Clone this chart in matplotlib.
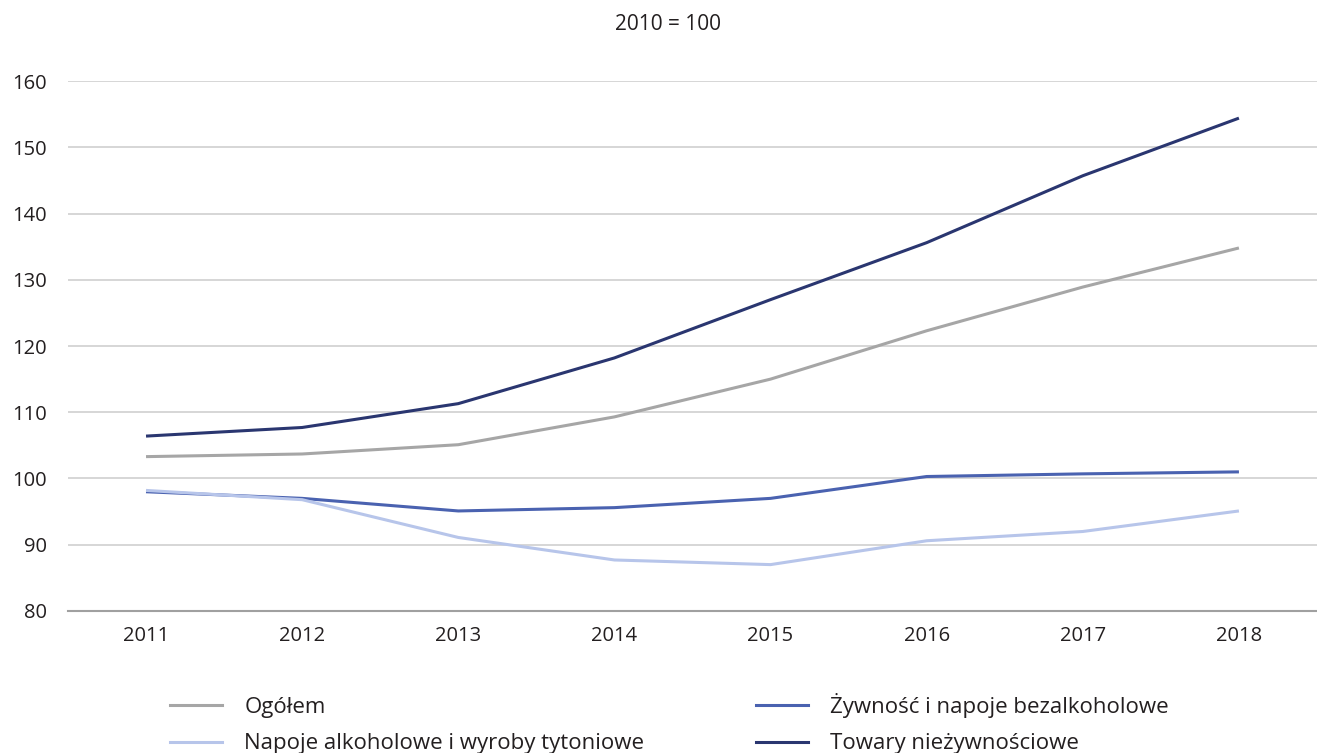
import matplotlib.pyplot as plt
from matplotlib.lines import Line2D

plt.rcParams['font.family'] = ['Open Sans', 'DejaVu Sans']

years = ["2011", "2012", "2013", "2014", "2015", "2016", "2017", "2018"]
ogolem = [103.3, 103.7, 105.1, 109.3, 115.0, 122.3, 128.9, 134.8]
zywnosc = [98.0, 97.0, 95.1, 95.6, 97.0, 100.3, 100.7, 101.0]
napoje = [98.2, 96.8, 91.1, 87.7, 87.0, 90.6, 92.0, 95.1]
towary = [106.4, 107.7, 111.3, 118.2, 127.0, 135.6, 145.7, 154.4]

labels = ["Ogółem", "Żywność i napoje bezalkoholowe",
          "Napoje alkoholowe i wyroby tytoniowe", "Towary nieżywnościowe"]
colors = ["#a6a6a6", "#4a62b0", "#b7c5ea", "#2a3670"]
series = [ogolem, zywnosc, napoje, towary]

fig = plt.figure(figsize=(13.17, 7.53), dpi=100)
ax = fig.add_axes([0.0516, 0.1886, 0.9484, 0.7038])

x = list(range(len(years)))
for vals, c in zip(series, colors):
    ax.plot(x, vals, color=c, lw=2.2, solid_capstyle="butt")

ax.set_xlim(-0.5, len(years) - 0.5)
ax.set_ylim(80, 160)
ax.set_yticks(range(80, 161, 10))
ax.set_xticks(x)
ax.set_xticklabels(years)
ax.yaxis.grid(True, color="#d0d0d0", lw=1.2)
ax.set_axisbelow(True)
for s in ["top", "right", "left"]:
    ax.spines[s].set_visible(False)
ax.spines["bottom"].set_color("#a0a0a0")
ax.spines["bottom"].set_linewidth(1.5)
ax.tick_params(axis="both", length=0, labelsize=14.5, colors="#231f20")
ax.tick_params(axis="x", pad=11)
ax.tick_params(axis="y", pad=15)

fig.text(0.507, 0.967, "2010 = 100", ha="center", va="center", fontsize=15, color="#231f20")

# legend in two columns: (Ogółem, Napoje) | (Żywność, Towary)
order = [0, 2, 1, 3]
handles = [Line2D([], [], color=colors[i], lw=2.2) for i in order]
fig.legend(handles, [labels[i] for i in order], ncol=2, loc="upper left",
           bbox_to_anchor=(170 / 1317, 0.08), frameon=False, fontsize=16,
           handlelength=2.35, handletextpad=1.0, labelspacing=0.7,
           columnspacing=5.0, borderpad=0, borderaxespad=0,
           labelcolor="#231f20")

fig.savefig("out.png", dpi=100)
